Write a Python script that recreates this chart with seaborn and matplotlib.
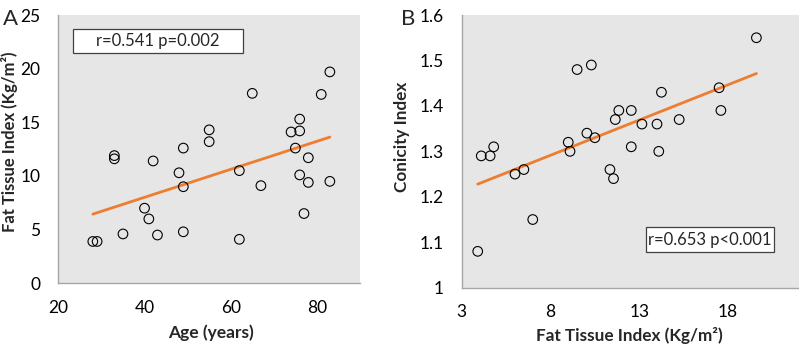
import numpy as np
import pandas as pd
import seaborn as sns
import matplotlib.pyplot as plt
from matplotlib.patches import Rectangle
from matplotlib.ticker import FuncFormatter

# Panel A: age vs fat tissue index
age = [28, 29, 33, 33, 35, 40, 41, 42, 43, 48, 49, 49, 49, 55, 55,
       62, 62, 65, 67, 74, 75, 76, 76, 76, 78, 78, 77, 81, 83, 83]
fti_a = [3.9, 3.9, 11.9, 11.6, 4.6, 7.0, 6.0, 11.4, 4.5, 10.3, 12.6, 9.0, 4.8, 14.3, 13.2,
         10.5, 4.1, 17.7, 9.1, 14.1, 12.6, 15.3, 14.2, 10.1, 11.7, 9.4, 6.5, 17.6, 19.7, 9.5]

# Panel B: fat tissue index vs conicity index
fti_b = [3.9, 4.1, 4.6, 4.8, 6.0, 6.5, 7.0, 9.0, 9.1, 9.5, 10.05, 10.3, 10.5, 11.35,
         11.55, 11.65, 11.85, 12.55, 12.55, 13.15, 14.0, 14.1, 14.25, 15.25, 17.5, 17.6, 19.6]
conicity = [1.08, 1.29, 1.29, 1.31, 1.25, 1.26, 1.15, 1.32, 1.30, 1.48, 1.34, 1.49, 1.33, 1.26,
            1.24, 1.37, 1.39, 1.39, 1.31, 1.36, 1.36, 1.30, 1.43, 1.37, 1.44, 1.39, 1.55]

stats_a = "r=0.541 p=0.002"
stats_b = "r=0.653 p<0.001"

df_a = pd.DataFrame({"age": age, "fti": fti_a})
df_b = pd.DataFrame({"fti": fti_b, "ci": conicity})

sns.set_style("white")
plt.rcParams["font.family"] = ["Lato", "DejaVu Sans"]

fig = plt.figure(figsize=(7.99, 3.45), dpi=100)
ax_a = fig.add_axes([0.0730, 0.1788, 0.3776, 0.7777])
ax_b = fig.add_axes([0.5779, 0.1661, 0.4221, 0.7904])

line_color = "#ED7D31"
bg = "#E6E6E6"


def draw(ax, df, x, y):
    sns.regplot(data=df, x=x, y=y, ax=ax, ci=None, scatter=False,
                line_kws={"color": line_color, "lw": 2.0})
    sns.scatterplot(data=df, x=x, y=y, ax=ax, marker="o", s=48,
                    facecolor="none", edgecolor="black", linewidth=0.8, zorder=3)
    ax.set_facecolor(bg)
    for side in ["top", "right"]:
        ax.spines[side].set_visible(False)
    for side in ["left", "bottom"]:
        ax.spines[side].set_color("#A6A6A6")
        ax.spines[side].set_linewidth(1.0)
    ax.tick_params(length=0, labelsize=12.5, colors="black")


draw(ax_a, df_a, "age", "fti")
ax_a.set_xlim(20, 90)
ax_a.set_ylim(0, 25)
ax_a.set_xticks([20, 40, 60, 80])
ax_a.set_yticks([0, 5, 10, 15, 20, 25])
ax_a.tick_params(axis="y", pad=13)
ax_a.tick_params(axis="x", pad=12)
ax_a.set_xlabel("Age (years)", fontsize=12.5, fontweight="bold")
ax_a.set_ylabel("Fat Tissue Index (Kg/m²)", fontsize=12, fontweight="bold")
ax_a.xaxis.set_label_coords(0.505, -0.155)
ax_a.yaxis.set_label_coords(-0.133, 0.526)
ax_a.add_patch(Rectangle((0.047, 0.858), 0.564, 0.09, transform=ax_a.transAxes,
                         facecolor="white", edgecolor="#404040", lw=0.9, zorder=4))
ax_a.text(0.329, 0.903, stats_a, transform=ax_a.transAxes, ha="center", va="center",
          fontsize=12, zorder=5)

draw(ax_b, df_b, "fti", "ci")
ax_b.set_xlim(3, 22)
ax_b.set_ylim(1.0, 1.6)
ax_b.set_xticks([3, 8, 13, 18])
ax_b.set_yticks([1.0, 1.1, 1.2, 1.3, 1.4, 1.5, 1.6])
ax_b.yaxis.set_major_formatter(FuncFormatter(lambda v, p: f"{v:g}"))
ax_b.tick_params(axis="y", pad=13)
ax_b.tick_params(axis="x", pad=12)
ax_b.set_xlabel("Fat Tissue Index (Kg/m²)", fontsize=12.3, fontweight="bold")
ax_b.set_ylabel("Conicity Index", fontsize=12.3, fontweight="bold")
ax_b.xaxis.set_label_coords(0.497, -0.145)
ax_b.yaxis.set_label_coords(-0.153, 0.552)
ax_b.add_patch(Rectangle((0.546, 0.130), 0.38, 0.091, transform=ax_b.transAxes,
                         facecolor="white", edgecolor="#404040", lw=0.9, zorder=4))
ax_b.text(0.736, 0.1755, stats_b, transform=ax_b.transAxes, ha="center", va="center",
          fontsize=12, zorder=5)

fig.text(0.004, 0.975, "A", fontsize=16, va="top", ha="left")
fig.text(0.502, 0.975, "B", fontsize=16, va="top", ha="left")

fig.savefig("out.png", dpi=100)
